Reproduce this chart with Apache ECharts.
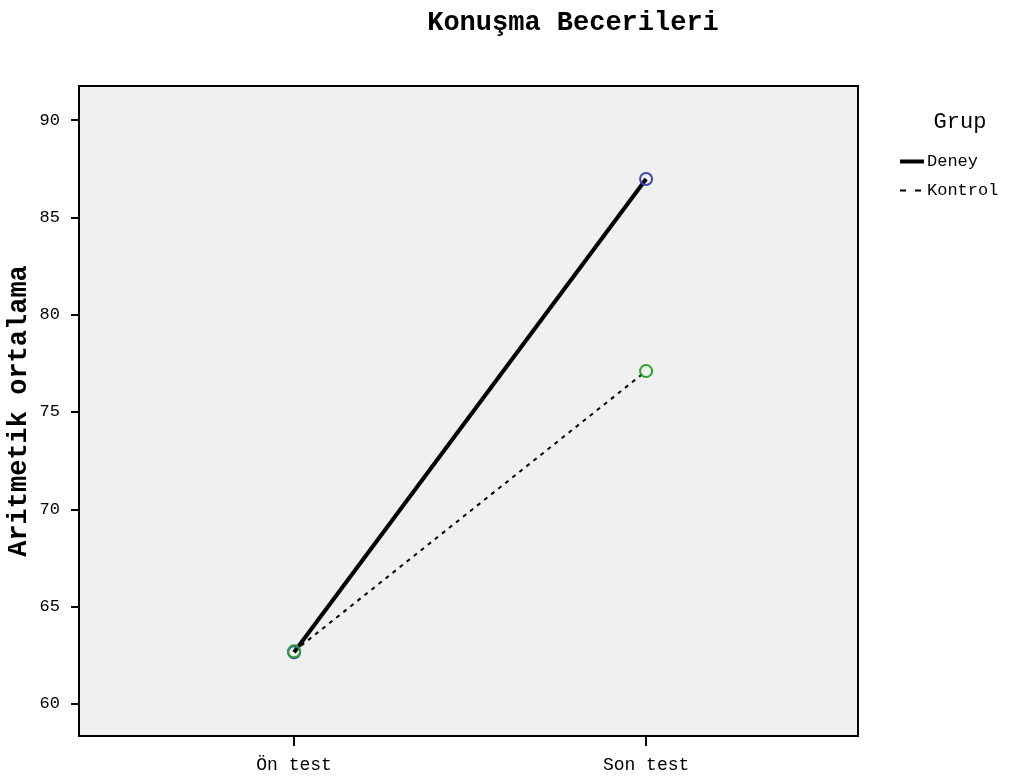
<!DOCTYPE html>
<html>
<head>
<meta charset="utf-8">
<script src="https://cdn.jsdelivr.net/npm/echarts@6/dist/echarts.min.js"></script>
<style>html,body{margin:0;padding:0;background:#fff}#c{width:1015px;height:779px}</style>
</head>
<body>
<div id="c"></div>
<script>
var categories = ['Ön test', 'Son test'];
var deney = [62.65, 86.97];
var kontrol = [62.7, 77.1];
var yTicks = [60, 65, 70, 75, 80, 85, 90];
var seriesNames = ['Deney', 'Kontrol'];

var FONT = 'Liberation Mono';
var chart = echarts.init(document.getElementById('c'));
function pts(arr){ return arr.map(function(v,i){ return [i, v]; }); }
chart.setOption({
  animation: false,
  backgroundColor: '#fff',
  title: [
    { text: 'Konuşma Becerileri', left: 568, top: 5, textAlign: 'center',
      textStyle: { fontFamily: FONT, fontWeight: 'bold', fontSize: 27, color: '#000' } },
    { text: 'Grup', left: 955, top: 106, textAlign: 'center',
      textStyle: { fontFamily: FONT, fontWeight: 'normal', fontSize: 22, color: '#000' } }
  ],
  legend: {
    orient: 'vertical', left: 893, top: 148, itemGap: 12,
    itemWidth: 24, itemHeight: 14,
    textStyle: { fontFamily: FONT, fontSize: 17, color: '#000', padding: [4, 0, 0, -2] },
    itemStyle: { color: 'transparent', borderColor: 'transparent', borderWidth: 0 },
    data: [
      { name: seriesNames[0], lineStyle: { width: 4, color: '#000', type: 'solid' } },
      { name: seriesNames[1], lineStyle: { width: 2, color: '#000', type: [6, 9] } }
    ]
  },
  grid: { left: 79, right: 157, top: 86, bottom: 43, show: true, containLabel: false,
    outerBoundsMode: 'none',
    backgroundColor: '#f0f0f0', borderColor: '#000', borderWidth: 2 },
  xAxis: {
    type: 'value', min: -0.611, max: 1.602,
    splitLine: { show: false },
    axisLine: { show: false, onZero: false },
    axisTick: { show: true, length: 10, customValues: [0, 1], lineStyle: { color: '#000', width: 2 } },
    axisLabel: { customValues: [0, 1], margin: 20, fontFamily: FONT, fontSize: 18, color: '#000',
      formatter: function(v){ return categories[Math.round(v)]; } }
  },
  yAxis: {
    type: 'value', min: 58.35, max: 91.75,
    name: 'Aritmetik ortalama', nameLocation: 'middle', nameGap: 46, nameMoveOverlap: false,
    nameTextStyle: { fontFamily: FONT, fontWeight: 'bold', fontSize: 27, color: '#000' },
    splitLine: { show: false },
    axisLine: { show: false, onZero: false },
    axisTick: { show: true, length: 8, customValues: yTicks, lineStyle: { color: '#000', width: 2 } },
    axisLabel: { customValues: yTicks, margin: 19, fontFamily: FONT, fontSize: 17, color: '#000' }
  },
  series: [
    { name: 'Deney', type: 'line', data: pts(deney), symbol: 'circle', symbolSize: 12,
      lineStyle: { color: '#000', width: 4, type: 'solid' },
      itemStyle: { color: 'transparent', borderColor: '#3a47b5', borderWidth: 2 } },
    { name: 'Kontrol', type: 'line', data: pts(kontrol), symbol: 'circle', symbolSize: 12,
      lineStyle: { color: '#000', width: 2, type: [4, 5] },
      itemStyle: { color: 'transparent', borderColor: '#2aa52a', borderWidth: 2 } }
  ]
});
</script>
</body>
</html>
